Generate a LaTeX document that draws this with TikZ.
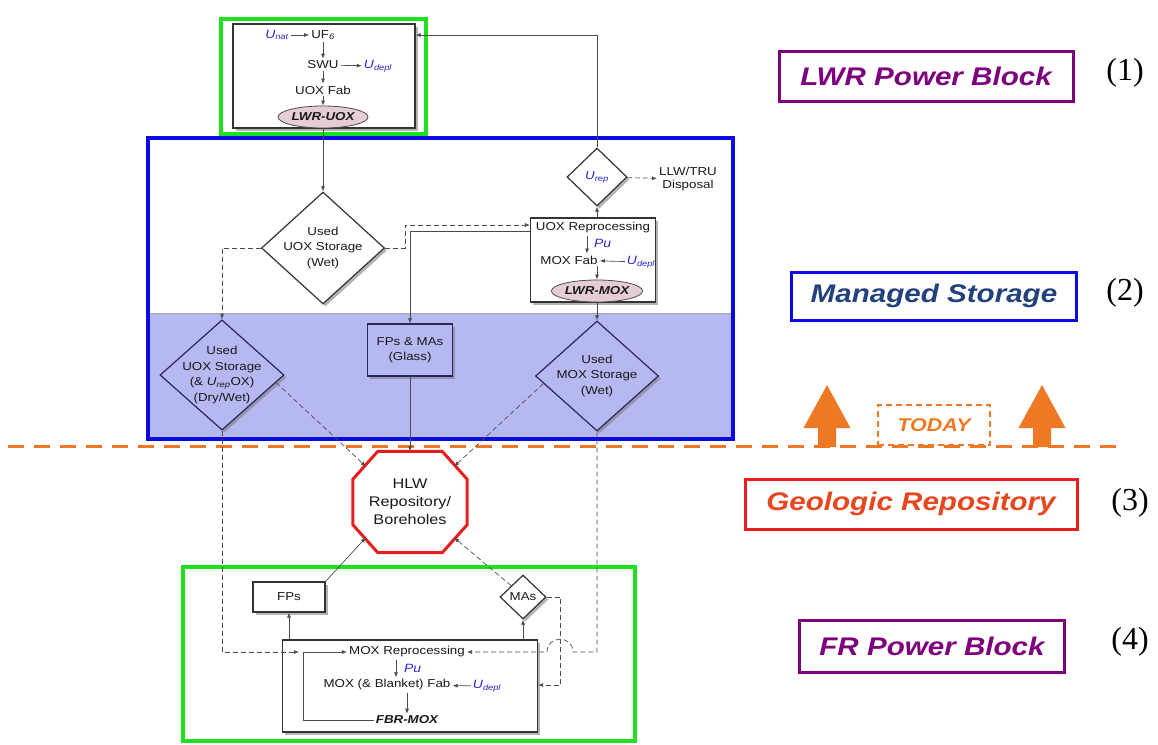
\documentclass[tikz,border=0pt]{standalone}
\usepackage{fontspec}
\setmainfont{Liberation Sans}[FakeStretch=1.16]
\newfontfamily\numfont{Liberation Serif}
\usetikzlibrary{arrows,arrows.meta,calc,positioning,shapes,shadows}

\definecolor{ublue}{RGB}{40,40,205}
\definecolor{lav}{RGB}{182,184,242}
\definecolor{navy}{RGB}{40,40,90}
\definecolor{fcgreen}{RGB}{30,225,30}
\definecolor{msblue}{RGB}{10,10,225}
\definecolor{hlwred}{RGB}{230,30,30}
\definecolor{lwrpurple}{RGB}{125,0,125}
\definecolor{todayorange}{RGB}{238,120,35}
\definecolor{fuelpink}{RGB}{230,205,212}
\definecolor{mstext}{RGB}{35,65,125}
\definecolor{geored}{RGB}{232,70,30}

\tikzset{
  txt/.style={font=\fontsize{11.5}{15.5}\selectfont, text=black!90, align=center, inner sep=2pt},
  iso/.style={txt, text=ublue, font=\fontsize{12}{14}\selectfont\itshape},
  proc/.style={draw=black!80, line width=1.2pt, fill=white,
    drop shadow={shadow xshift=2.5pt, shadow yshift=-2.5pt, fill=black!50, opacity=0.6}},
  stor/.style={txt, proc, diamond, aspect=1.1, inner sep=-5pt},
  fuel/.style={ellipse, draw=black!70, line width=0.8pt, fill=fuelpink, text=black!90,
    font=\fontsize{11.5}{14}\selectfont\bfseries\itshape, inner sep=0pt},
  flow/.style={-{Latex[length=5pt,width=4pt]}, line width=0.7pt, draw=black!70},
  dflow/.style={flow, dash pattern=on 5pt off 3pt},
  legend/.style={line width=3pt, fill=white, inner sep=0pt,
    font=\fontsize{25.5}{28}\selectfont\bfseries\itshape},
  num/.style={font=\numfont\fontsize{32}{34}\selectfont},
}

\begin{document}
\begin{tikzpicture}[x=1pt,y=-1pt]
  \useasboundingbox (0,0) rectangle (1158,744);

  % managed storage
  \fill[lav] (148,313) rectangle (733,438);
  \draw[gray!70, line width=0.5pt] (148,313) -- (733,313);
  \draw[msblue, line width=4pt] (148,138) rectangle (733,439);

  % LWR power block
  \draw[fcgreen, line width=3.5pt] (221,19) rectangle (426,134);
  \node[proc, minimum width=182pt, minimum height=104pt] (uoxbox) at (324,76) {};
  \node[iso] (unat) at (277,35) {U\textsubscript{nat}};
  \node[txt] (uf6) at (323,35) {UF\textsubscript{\itshape 6}};
  \node[txt] (swu) at (323,65) {SWU};
  \node[iso] (udeplA) at (378,66) {U\textsubscript{depl}};
  \node[txt] (uoxfab) at (323,90) {UOX Fab};
  \node[fuel, minimum width=90pt, minimum height=22pt] (lwruox) at (323,117) {LWR-UOX};

  % reprocessing
  \node[stor, minimum width=60pt, minimum height=58pt] (urep) at (597,177)
    {\color{ublue}\itshape U\textsubscript{rep}};
  \node[txt, anchor=west, font=\fontsize{11.5}{13}\selectfont] (llw) at (657,179) {LLW/TRU\\Disposal};
  \node[proc, minimum width=125pt, minimum height=84pt] (reproc) at (593,260) {};
  \node[txt] (uoxrep) at (593,228) {UOX Reprocessing};
  \node[iso, anchor=west] (puA) at (592,243) {Pu};
  \node[txt] (moxfab) at (569,260) {MOX Fab};
  \node[iso] (udeplB) at (641,262) {U\textsubscript{depl}};
  \node[fuel, minimum width=86pt, minimum height=22pt] (lwrmox) at (597,291) {LWR-MOX};

  % storage
  \node[stor, minimum width=123pt, minimum height=112pt] (uoxwet) at (323,248)
    {Used\\UOX Storage\\(Wet)};
  \node[stor, fill=lav, draw=navy, minimum width=124pt, minimum height=110pt] (uoxdry) at (222,375)
    {Used\\UOX Storage\\(\& \textit{U}\textsubscript{\itshape rep}OX)\\(Dry/Wet)};
  \node[txt, proc, fill=lav, draw=navy, minimum width=85pt, minimum height=52pt] (glass) at (410,350)
    {FPs \& MAs\\(Glass)};
  \node[stor, fill=lav, draw=navy, minimum width=123pt, minimum height=110pt] (moxwet) at (597,376)
    {Used\\MOX Storage\\(Wet)};

  % repository
  \node[text=black!90, align=center, minimum width=114pt, minimum height=101pt,
    font=\fontsize{14}{18}\selectfont] (hlw) at (410,502) {HLW\\Repository/\\Boreholes};
  \draw[hlwred, line width=3pt, line join=miter]
    ([xshift=25pt]hlw.north west) -- ([xshift=-25pt]hlw.north east)
    -- ([yshift=-28pt]hlw.north east) -- ([yshift=28pt]hlw.south east)
    -- ([xshift=-25pt]hlw.south east) -- ([xshift=25pt]hlw.south west)
    -- ([yshift=28pt]hlw.south west) -- ([yshift=-28pt]hlw.north west) -- cycle;
  \coordinate (hlwNW) at ($(hlw.north west)+(13,15)$);
  \coordinate (hlwNE) at ($(hlw.north east)+(-13,15)$);
  \coordinate (hlwSW) at ($(hlw.south west)+(13,-15)$);
  \coordinate (hlwSE) at ($(hlw.south east)+(-13,-15)$);

  % FR power block
  \draw[fcgreen, line width=3.5pt] (183,567) rectangle (635,741);
  \node[txt, proc, minimum width=72pt, minimum height=30pt] (fps) at (289,597) {FPs};
  \node[stor, minimum width=46pt, minimum height=44pt] (mas) at (523,597) {MAs};
  \node[proc, minimum width=255pt, minimum height=92pt] (moxrep) at (410,686) {};
  \node[txt] (moxreptxt) at (407,652) {MOX Reprocessing};
  \node[iso, anchor=west] (puB) at (402,668) {Pu};
  \node[txt] (fabtxt) at (387,685) {MOX (\& Blanket) Fab};
  \node[iso] (udeplC) at (487,686) {U\textsubscript{depl}};
  \node[txt, font=\fontsize{11.5}{14}\selectfont\bfseries\itshape] (fbrmox) at (407,720) {FBR-MOX};
  \coordinate (loopin) at (303,652);

  % today
  \draw[todayorange, line width=3pt, dash pattern=on 16pt off 10pt] (8,446) -- (1118,446);
  \node[draw=todayorange, line width=1.5pt, dash pattern=on 6pt off 4pt, text=todayorange,
    minimum width=112pt, minimum height=40pt, font=\fontsize{18.5}{20}\selectfont\bfseries\itshape]
    (today) at (934,425) {TODAY};
  \coordinate (upL) at (827,447);
  \coordinate (upR) at (1042,447);
  \foreach \c in {upL,upR}
    \fill[todayorange] (\c) ++(-9,0) -- ++(0,-19) -- ++(-14.5,0) -- ++(23.5,-43)
      -- ++(23.5,43) -- ++(-14.5,0) -- ++(0,19) -- cycle;

  % legend
  \node[legend, draw=lwrpurple, text=lwrpurple, minimum width=294pt, minimum height=50pt] (lwrleg) at (926,76) {LWR Power Block};
  \node[num] (numA) at (1125,73) {(1)};
  \node[legend, draw=msblue, text=mstext, minimum width=285pt, minimum height=48pt] (msleg) at (934,296) {Managed Storage};
  \node[num] (numB) at (1125,293) {(2)};
  \node[legend, draw=hlwred, text=geored, minimum width=332pt, minimum height=50pt] (geoleg) at (911,504) {Geologic Repository};
  \node[num] (numC) at (1130,503) {(3)};
  \node[legend, draw=lwrpurple, text=lwrpurple, minimum width=265pt, minimum height=52pt] (frleg) at (932,646) {FR Power Block};
  \node[num] (numD) at (1130,642) {(4)};

  % connectors
  \draw[flow] (unat) -- (uf6);
  \draw[flow] (uf6) -- (swu);
  \draw[flow] (swu) -- (udeplA);
  \draw[flow] (swu) -- (uoxfab);
  \draw[flow] (uoxfab) -- (lwruox);
  \draw[flow] (lwruox) -- (uoxwet);
  \draw[flow] (urep) |- (uoxbox.east |- uf6);
  \draw[dflow] (urep) -- (llw);
  \draw[flow] (reproc.north -| urep) -- (urep);
  \draw[flow] ($(uoxrep.south -| puA.west)+(-5,0)$) -- ($(moxfab.north -| puA.west)+(-5,0)$);
  \draw[flow] (udeplB) -- (moxfab);
  \draw[flow] (moxfab.south -| lwrmox) -- (lwrmox);
  \path (reproc.west |- uoxrep) ++(0,-3) coordinate (rin) ++(0,6) coordinate (rout);
  \draw[dflow] (uoxwet.east) -- ++(20,0) |- (rin);
  \draw[flow] (rout) -| (glass);
  \draw[dflow] (uoxwet.west) -| (uoxdry);
  \draw[flow] (lwrmox) -- (moxwet);
  \draw[flow] (glass) -- (hlw);
  \draw[dflow] (uoxdry.-8) -- (hlwNW);
  \draw[dflow] (moxwet.188) -- (hlwNE);
  \draw[flow] (fps.north east) -- (hlwSW);
  \draw[dflow] (mas.north west) -- (hlwSE);
  \draw[flow] (moxrep.north -| fps) -- (fps);
  \draw[flow] (moxrep.north -| mas) -- (mas);
  \draw[dflow] (mas.east) -- ++(14,0) |- (moxrep.east |- fabtxt);
  \draw[dflow] (moxwet.south) -- (moxwet.south |- moxreptxt) -- ++(-24,0)
    .. controls +(0,-17) and +(0,-17) .. ++(-26,0) -- (moxreptxt.east);
  \draw[dflow] (uoxdry.south) |- ([xshift=-4pt]loopin);
  \draw[flow] (fbrmox.west) -| (loopin) -- (moxreptxt.west);
  \draw[flow] ($(moxreptxt.south -| puB.west)+(-6,0)$) -- ($(fabtxt.north -| puB.west)+(-6,0)$);
  \draw[flow] (udeplC) -- (fabtxt);
  \draw[flow] (fabtxt.south -| fbrmox) -- (fbrmox);
\end{tikzpicture}
\end{document}
